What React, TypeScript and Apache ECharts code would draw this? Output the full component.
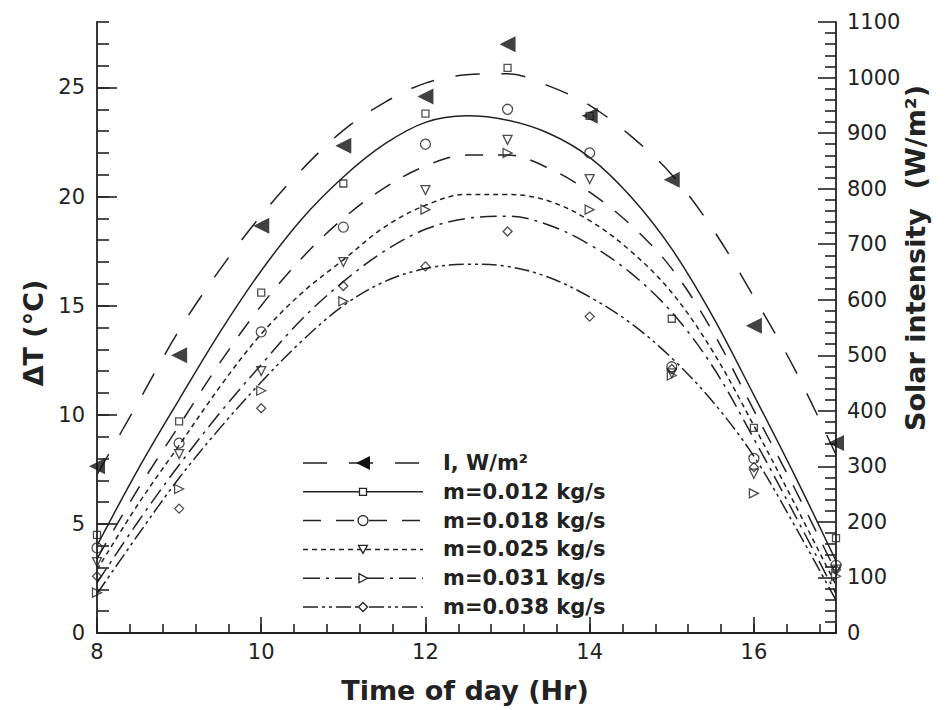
import { useEffect, useRef } from 'react';
import * as echarts from 'echarts';

// Hours of the day at which readings were taken
const hours = [8, 9, 10, 11, 12, 13, 14, 15, 16, 17];

// Measured solar intensity, W/m²
const solarIntensity = [300, 500, 733, 877, 966, 1060, 931, 816, 553, 342];

// Measured temperature rise ΔT (°C) for each mass flow rate
const dt012 = [4.5, 9.7, 15.6, 20.6, 23.8, 25.9, 23.7, 14.4, 9.4, 4.35];
const dt018 = [3.9, 8.7, 13.8, 18.6, 22.4, 24.0, 22.0, 12.2, 8.0, 3.1];
const dt025 = [3.25, 8.2, 12.0, 17.0, 20.3, 22.6, 20.8, 11.9, 7.3, 2.9];
const dt031 = [1.85, 6.6, 11.1, 15.2, 19.4, 22.0, 19.4, 11.8, 6.4, 2.6];
const dt038 = [2.6, 5.7, 10.3, 15.9, 16.8, 18.4, 14.5, 12.1, 7.6, 2.9];

// Fitted trend curves, sampled every half hour
const fitHours = [8, 8.5, 9, 9.5, 10, 10.5, 11, 11.5, 12, 12.5, 13, 13.5, 14, 14.5, 15, 15.5, 16, 16.5, 17];
const fitI = [285, 415, 545, 655, 752, 835, 905, 955, 990, 1005, 1007, 985, 950, 895, 825, 727, 605, 474, 321];
const fit012 = [4.0, 7.5, 10.7, 13.8, 16.6, 19.0, 20.9, 22.4, 23.4, 23.7, 23.5, 22.9, 21.8, 20.0, 17.6, 14.5, 10.9, 7.2, 3.3];
const fit018 = [3.4, 6.6, 9.5, 12.4, 15.0, 17.2, 19.0, 20.4, 21.4, 21.9, 21.9, 21.3, 20.2, 18.7, 16.7, 13.8, 10.2, 6.6, 2.8];
const fit025 = [2.9, 5.9, 8.6, 11.3, 13.7, 15.6, 17.1, 18.6, 19.6, 20.1, 20.1, 19.8, 18.9, 17.5, 15.6, 12.9, 9.5, 5.9, 2.2];
const fit031 = [2.3, 5.1, 7.7, 10.1, 12.3, 14.4, 16.1, 17.5, 18.5, 19.0, 19.1, 18.7, 17.8, 16.5, 14.7, 12.2, 8.9, 5.4, 1.8];
const fit038 = [1.8, 4.5, 7.1, 9.4, 11.5, 13.4, 15.0, 16.1, 16.7, 16.9, 16.8, 16.3, 15.4, 14.2, 12.6, 10.6, 8.1, 4.9, 1.5];

// Axis tick labels
const hourTicks = [8, 10, 12, 14, 16];
const dtTicks = [0, 5, 10, 15, 20, 25];

const legendNames = [
  'I, W/m²',
  'm=0.012 kg/s',
  'm=0.018 kg/s',
  'm=0.025 kg/s',
  'm=0.031 kg/s',
  'm=0.038 kg/s',
];

const INK = '#222';
const FONT = '"DejaVu Sans", "Liberation Sans", sans-serif';

const dashI = [24, 22];
const dash018 = [18, 15];
const dash025 = [5, 4];
const dash031 = [17, 6, 3, 6];
const dash038 = [15, 4, 3, 4, 3, 4];

const pairs = (xs: number[], ys: number[]) => xs.map((x, i) => [x, ys[i]]);

const hollow = { color: 'rgba(0,0,0,0)', borderColor: INK, borderWidth: 1.3 };

function fitLine(data: number[], dash: number[] | 'solid', yAxisIndex = 0) {
  return {
    type: 'line',
    xAxisIndex: 0,
    yAxisIndex,
    data: pairs(fitHours, data),
    smooth: 0.35,
    showSymbol: false,
    symbol: 'none',
    silent: true,
    z: 2,
    lineStyle: { color: INK, width: 1.5, type: dash },
  };
}

function points(data: number[], symbol: string, size: number, rotate: number, yAxisIndex = 0, filled = false) {
  return {
    type: 'scatter',
    xAxisIndex: 0,
    yAxisIndex,
    data: pairs(hours, data),
    symbol,
    symbolSize: size,
    symbolRotate: rotate,
    z: filled ? 5 : 3,
    itemStyle: filled ? { color: '#111' } : hollow,
  };
}

// Legend symbols drawn at (cx, cy)
function legendSymbol(kind: string, cx: number, cy: number) {
  const stroke = { fill: '#fff', stroke: INK, lineWidth: 1.3 };
  switch (kind) {
    case 'tri-left':
      return { type: 'polygon', shape: { points: [[cx + 7, cy - 7], [cx + 7, cy + 7], [cx - 7, cy]] }, style: { fill: '#111' } };
    case 'rect':
      return { type: 'rect', shape: { x: cx - 3.5, y: cy - 3.5, width: 7, height: 7 }, style: stroke };
    case 'circle':
      return { type: 'circle', shape: { cx, cy, r: 5 }, style: stroke };
    case 'tri-down':
      return { type: 'polygon', shape: { points: [[cx - 4.5, cy - 4], [cx + 4.5, cy - 4], [cx, cy + 4]] }, style: stroke };
    case 'tri-right':
      return { type: 'polygon', shape: { points: [[cx - 4, cy - 4.5], [cx - 4, cy + 4.5], [cx + 4.5, cy]] }, style: stroke };
    default:
      return { type: 'polygon', shape: { points: [[cx, cy - 4.5], [cx + 4.5, cy], [cx, cy + 4.5], [cx - 4.5, cy]] }, style: stroke };
  }
}

export default function App() {
  const ref = useRef<HTMLDivElement>(null);

  useEffect(() => {
    document.body.style.margin = '0';
    const chart = echarts.init(ref.current!, undefined, { renderer: 'svg' });

    const axisLine = { show: true, lineStyle: { color: INK, width: 1.8 } };
    const tickLine = { color: INK, width: 1.6 };
    const labelStyle = { fontFamily: FONT, fontSize: 21, color: INK };

    const legendKinds = ['tri-left', 'rect', 'circle', 'tri-down', 'tri-right', 'diamond'];
    const legendDashes: (number[] | null)[] = [dashI, null, dash018, dash025, dash031, dash038];
    const legendTop = 463;
    const legendStep = 28.8;
    const legendElements: any[] = [];
    legendNames.forEach((name, i) => {
      const y = legendTop + i * legendStep;
      const dash = legendDashes[i];
      legendElements.push({
        type: 'line',
        shape: { x1: 303, y1: y, x2: 423, y2: y },
        style: { stroke: INK, lineWidth: 1.5, lineDash: dash || undefined },
      });
      legendElements.push(legendSymbol(legendKinds[i], 363, y));
      legendElements.push({
        type: 'text',
        x: 443,
        y,
        style: {
          text: name,
          font: `bold 21px ${FONT}`,
          fill: INK,
          align: 'left',
          verticalAlign: 'middle',
          textAlign: 'left',
          textVerticalAlign: 'middle',
        },
      });
    });

    const titleFont = `bold 27px ${FONT}`;
    const titleStyle = (text: string) => ({
      text,
      font: titleFont,
      fill: INK,
      align: 'center',
      verticalAlign: 'middle',
      textAlign: 'center',
      textVerticalAlign: 'middle',
    });

    const option: any = {
      animation: false,
      backgroundColor: '#fff',
      grid: { left: 97, right: 110, top: 22, bottom: 77, outerBoundsMode: 'none' },
      xAxis: [
        {
          type: 'value',
          min: 8,
          max: 17,
          position: 'bottom',
          axisLine,
          axisTick: { show: true, inside: true, length: 16, customValues: hourTicks, lineStyle: tickLine },
          axisLabel: { ...labelStyle, customValues: hourTicks, margin: 8 },
          splitLine: { show: false },
        },
        {
          type: 'value',
          min: 8,
          max: 17,
          interval: 0.4,
          position: 'bottom',
          axisLine: { show: false },
          axisTick: { show: true, inside: true, length: 9, lineStyle: tickLine },
          axisLabel: { show: false },
          splitLine: { show: false },
        },
      ],
      yAxis: [
        {
          type: 'value',
          min: 0,
          max: 28,
          position: 'left',
          axisLine,
          axisTick: { show: true, inside: true, length: 20, customValues: dtTicks, lineStyle: tickLine },
          axisLabel: { ...labelStyle, customValues: dtTicks, margin: 12 },
          splitLine: { show: false },
        },
        {
          type: 'value',
          min: 0,
          max: 1100,
          interval: 100,
          position: 'right',
          axisLine,
          axisTick: { show: true, inside: true, length: 18, lineStyle: tickLine },
          minorTick: { show: true, splitNumber: 5, length: 11, lineStyle: tickLine },
          axisLabel: { ...labelStyle, margin: 11, formatter: (v: number) => String(v) },
          splitLine: { show: false },
          minorSplitLine: { show: false },
        },
        {
          type: 'value',
          min: 0,
          max: 28,
          interval: 1,
          position: 'left',
          axisLine: { show: false },
          axisTick: { show: true, inside: true, length: 12, lineStyle: tickLine },
          axisLabel: { show: false },
          splitLine: { show: false },
        },
      ],
      series: [
        fitLine(fitI, dashI, 1),
        fitLine(fit012, 'solid'),
        fitLine(fit018, dash018),
        fitLine(fit025, dash025),
        fitLine(fit031, dash031),
        fitLine(fit038, dash038),
        points(dt012, 'rect', 7, 0),
        points(dt018, 'circle', 10, 0),
        points(dt025, 'triangle', 9, 180),
        points(dt031, 'triangle', 9, -90),
        points(dt038, 'diamond', 9, 0),
        points(solarIntensity, 'triangle', 16, 90, 1, true),
      ],
      graphic: [
        { type: 'text', x: 465, y: 690, style: titleStyle('Time of day (Hr)') },
        { type: 'text', x: 33, y: 333, rotation: Math.PI / 2, style: titleStyle('ΔT (°C)') },
        { type: 'text', x: 915, y: 258, rotation: Math.PI / 2, style: titleStyle('Solar intensity  (W/m²)') },
        ...legendElements,
      ],
    };

    chart.setOption(option);
    return () => chart.dispose();
  }, []);

  return <div ref={ref} style={{ width: 946, height: 710 }} />;
}
